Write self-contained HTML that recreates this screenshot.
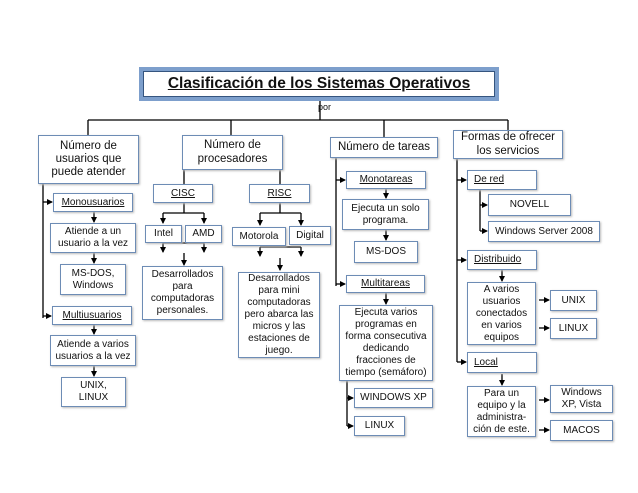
<!DOCTYPE html>
<html><head><meta charset="utf-8"><style>
body{margin:0;width:638px;height:493px;background:#fff;position:relative;overflow:hidden;font-family:"Liberation Sans",sans-serif;color:#111}
.b{position:absolute;box-sizing:border-box;border:1.5px solid #6d8cb5;background:#fff;display:flex;align-items:center;justify-content:center;text-align:center;font-size:10px;line-height:1.2;box-shadow:1px 1px 2px #bbb}
.h{font-size:11.5px;line-height:1.15}
.u{text-decoration:underline}
.l{justify-content:flex-start;padding-left:6px}
svg{position:absolute;left:0;top:0}
</style></head><body>
<svg width="638" height="493" viewBox="0 0 638 493">
<defs><marker id="a" markerWidth="6" markerHeight="6" refX="5" refY="3" orient="auto" markerUnits="userSpaceOnUse"><path d="M0,0L6,3L0,6z" fill="#000"/></marker></defs>
<g stroke="#000" stroke-width="1.3" fill="none">
<path d="M320 101V120M88 120H508M88 120V135M231 120V135M384 120V137M508 120V130"/>
<path d="M43 184V318"/><path d="M43 202H52" marker-end="url(#a)"/><path d="M43 316H51" marker-end="url(#a)"/>
<path d="M94 212V222" marker-end="url(#a)"/><path d="M94 253V263" marker-end="url(#a)"/>
<path d="M94 325V334" marker-end="url(#a)"/><path d="M94 366V376" marker-end="url(#a)"/>
<path d="M184 170V184M280 170V184"/>
<path d="M184 203V213M163 213H204"/><path d="M163 213V223" marker-end="url(#a)"/><path d="M204 213V223" marker-end="url(#a)"/>
<path d="M163 243H204"/><path d="M163 243V252" marker-end="url(#a)"/><path d="M204 243V252" marker-end="url(#a)"/><path d="M184 253V265" marker-end="url(#a)"/>
<path d="M280 203V213M260 213H301"/><path d="M260 213V225" marker-end="url(#a)"/><path d="M301 213V225" marker-end="url(#a)"/>
<path d="M260 247H301"/><path d="M260 247V256" marker-end="url(#a)"/><path d="M301 247V256" marker-end="url(#a)"/><path d="M280 258V270" marker-end="url(#a)"/>
<path d="M336 158V286"/><path d="M336 180H345" marker-end="url(#a)"/><path d="M336 284H345" marker-end="url(#a)"/>
<path d="M386 189V198" marker-end="url(#a)"/><path d="M386 230V240" marker-end="url(#a)"/><path d="M386 293V304" marker-end="url(#a)"/>
<path d="M347 381V426"/><path d="M347 398H353" marker-end="url(#a)"/><path d="M347 426H353" marker-end="url(#a)"/>
<path d="M457 159V362"/><path d="M457 180H466" marker-end="url(#a)"/><path d="M457 260H466" marker-end="url(#a)"/><path d="M457 362H466" marker-end="url(#a)"/>
<path d="M480 190V231"/><path d="M480 205H487" marker-end="url(#a)"/><path d="M480 231H487" marker-end="url(#a)"/>
<path d="M502 270V281" marker-end="url(#a)"/><path d="M502 374V385" marker-end="url(#a)"/>
<path d="M539 300H549" marker-end="url(#a)"/><path d="M539 328H549" marker-end="url(#a)"/>
<path d="M539 400H549" marker-end="url(#a)"/><path d="M539 430H549" marker-end="url(#a)"/>
</g></svg>
<div class="b" style="left:139px;top:67px;width:360px;height:34px;border:4px solid #7d9fcc;box-shadow:inset 0 0 0 1px #35557f;font-size:15.5px;font-weight:bold"><span class="u">Clasificación de los Sistemas Operativos</span></div>
<div style="position:absolute;left:318px;top:102px;font-size:9px">por</div>
<div class="b h" style="left:38px;top:135px;width:101px;height:49px">Número de<br>usuarios que<br>puede atender</div>
<div class="b h" style="left:182px;top:135px;width:101px;height:35px">Número de<br>procesadores</div>
<div class="b h" style="left:330px;top:137px;width:108px;height:21px">Número de tareas</div>
<div class="b h" style="left:453px;top:130px;width:110px;height:29px">Formas de ofrecer<br>los servicios</div>
<div class="b u" style="left:53px;top:193px;width:80px;height:19px">Monousuarios</div>
<div class="b" style="left:50px;top:223px;width:86px;height:30px">Atiende a un<br>usuario a la vez</div>
<div class="b" style="left:60px;top:264px;width:66px;height:31px">MS-DOS,<br>Windows</div>
<div class="b u" style="left:52px;top:306px;width:80px;height:19px">Multiusuarios</div>
<div class="b" style="left:50px;top:335px;width:86px;height:31px">Atiende a varios<br>usuarios a la vez</div>
<div class="b" style="left:61px;top:377px;width:65px;height:30px">UNIX,<br>LINUX</div>
<div class="b u" style="left:153px;top:184px;width:60px;height:19px">CISC</div>
<div class="b u" style="left:249px;top:184px;width:61px;height:19px">RISC</div>
<div class="b" style="left:145px;top:225px;width:37px;height:18px">Intel</div>
<div class="b" style="left:185px;top:225px;width:37px;height:18px">AMD</div>
<div class="b" style="left:232px;top:227px;width:54px;height:19px">Motorola</div>
<div class="b" style="left:289px;top:226px;width:42px;height:19px">Digital</div>
<div class="b" style="left:142px;top:266px;width:81px;height:54px">Desarrollados<br>para<br>computadoras<br>personales.</div>
<div class="b" style="left:238px;top:272px;width:82px;height:86px">Desarrollados<br>para mini<br>computadoras<br>pero abarca las<br>micros y las<br>estaciones de<br>juego.</div>
<div class="b u" style="left:346px;top:171px;width:80px;height:18px">Monotareas</div>
<div class="b" style="left:342px;top:199px;width:87px;height:31px">Ejecuta un solo<br>programa.</div>
<div class="b" style="left:354px;top:241px;width:64px;height:22px">MS-DOS</div>
<div class="b u" style="left:346px;top:275px;width:79px;height:18px">Multitareas</div>
<div class="b" style="left:339px;top:305px;width:94px;height:76px">Ejecuta varios<br>programas en<br>forma consecutiva<br>dedicando<br>fracciones de<br>tiempo (semáforo)</div>
<div class="b" style="left:354px;top:388px;width:79px;height:20px">WINDOWS XP</div>
<div class="b" style="left:354px;top:416px;width:51px;height:20px">LINUX</div>
<div class="b u l" style="left:467px;top:170px;width:70px;height:20px">De red</div>
<div class="b" style="left:488px;top:194px;width:83px;height:22px">NOVELL</div>
<div class="b" style="left:488px;top:221px;width:112px;height:21px">Windows Server 2008</div>
<div class="b u l" style="left:467px;top:250px;width:70px;height:20px">Distribuido</div>
<div class="b" style="left:467px;top:282px;width:69px;height:63px">A varios<br>usuarios<br>conectados<br>en varios<br>equipos</div>
<div class="b" style="left:550px;top:290px;width:47px;height:21px">UNIX</div>
<div class="b" style="left:550px;top:318px;width:47px;height:21px">LINUX</div>
<div class="b u l" style="left:467px;top:352px;width:70px;height:21px">Local</div>
<div class="b" style="left:467px;top:386px;width:69px;height:51px">Para un<br>equipo y la<br>administra-<br>ción de este.</div>
<div class="b" style="left:550px;top:385px;width:63px;height:28px">Windows<br>XP, Vista</div>
<div class="b" style="left:550px;top:420px;width:63px;height:21px">MACOS</div>
</body></html>
